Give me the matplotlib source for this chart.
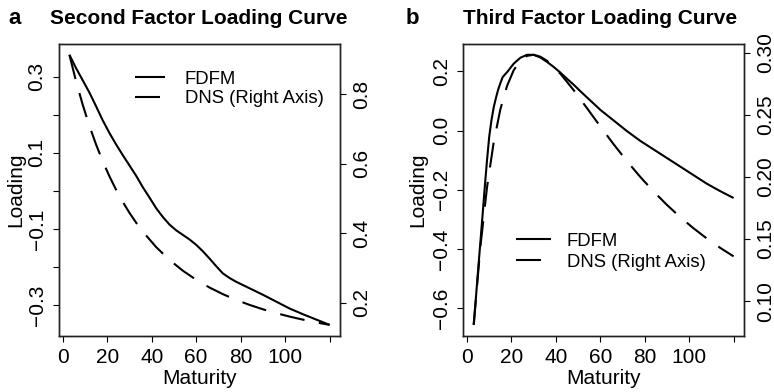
import matplotlib
matplotlib.use("Agg")
import matplotlib.pyplot as plt

plt.rcParams['font.family'] = ['Liberation Sans', 'DejaVu Sans']

# ---------------- data ----------------
maturity_a = [3, 6, 9, 12, 15, 18, 21, 24, 27, 30, 33, 36, 39, 42, 45, 48, 51, 54,
              57, 60, 63, 66, 69, 72, 75, 78, 84, 90, 96, 102, 108, 114, 120]
fdfm_second = [0.357, 0.322, 0.290, 0.258, 0.222, 0.185, 0.152, 0.122, 0.094, 0.067,
               0.040, 0.010, -0.017, -0.045, -0.068, -0.088, -0.103, -0.115, -0.127,
               -0.141, -0.158, -0.177, -0.197, -0.216, -0.228, -0.238, -0.255, -0.272,
               -0.290, -0.308, -0.323, -0.337, -0.351]

maturity_b = [3, 4, 5, 6, 7, 8, 9, 10, 11, 12, 13, 14, 15, 16, 17, 18, 21, 24, 27, 30,
              33, 36, 39, 42, 45, 48, 51, 54, 57, 60, 66, 72, 78, 84, 90, 96, 102, 108,
              114, 120]
fdfm_third = [-0.657, -0.565, -0.470, -0.378, -0.285, -0.190, -0.100, -0.020, 0.035,
              0.078, 0.110, 0.138, 0.160, 0.180, 0.189, 0.197, 0.226, 0.246, 0.256,
              0.256, 0.247, 0.232, 0.215, 0.196, 0.175, 0.155, 0.133, 0.112, 0.091,
              0.070, 0.034, -0.002, -0.035, -0.064, -0.093, -0.122, -0.151, -0.180,
              -0.205, -0.228]

maturity_dns = [3, 6, 9, 12, 15, 18, 21, 24, 27, 30, 33, 36, 42, 48, 54, 60, 66, 72,
                78, 84, 90, 96, 102, 108, 114, 120]
dns_second = [0.91396, 0.83763, 0.76984, 0.70946, 0.65559, 0.60742, 0.56428, 0.52554,
              0.49070, 0.45928, 0.43090, 0.40519, 0.36067, 0.32370, 0.29274, 0.26659,
              0.24432, 0.22522, 0.20870, 0.19431, 0.18169, 0.17055, 0.16066, 0.15183,
              0.14390, 0.13675]
dns_third = [0.08094, 0.14370, 0.19179, 0.22793, 0.25447, 0.27328, 0.28594, 0.29367,
             0.29755, 0.29838, 0.29687, 0.29354, 0.28319, 0.26994, 0.25543, 0.24070,
             0.22635, 0.21275, 0.20005, 0.18831, 0.17752, 0.16766, 0.15865, 0.15044,
             0.14293, 0.13608]

x_ticks = [0, 20, 40, 60, 80, 100, 120]
x_ticklabels = ['0', '20', '40', '60', '80', '100', '']

a_left_ticks = [-0.3, -0.2, -0.1, 0.0, 0.1, 0.2, 0.3]
a_left_labels = ['\u22120.3', '', '\u22120.1', '', '0.1', '', '0.3']
a_right_ticks = [0.2, 0.4, 0.6, 0.8]
a_right_labels = ['0.2', '0.4', '0.6', '0.8']

b_left_ticks = [-0.6, -0.4, -0.2, 0.0, 0.2]
b_left_labels = ['\u22120.6', '\u22120.4', '\u22120.2', '0.0', '0.2']
b_right_ticks = [0.10, 0.15, 0.20, 0.25, 0.30]
b_right_labels = ['0.10', '0.15', '0.20', '0.25', '0.30']

titles = ['Second Factor Loading Curve', 'Third Factor Loading Curve']
letters = ['a', 'b']
legend_labels = ['FDFM', 'DNS (Right Axis)']

# ---------------- layout ----------------
W, H = 774, 392
FS = 15
LFS = 13.3
fig = plt.figure(figsize=(W / 100, H / 100), dpi=100)


def rlim(vals):
    lo, hi = min(vals), max(vals)
    e = (hi - lo) * 0.04
    return lo - e, hi + e


def panel(left_px, right_px, mat, fd, dns, lt, ll, rt, rl, title, title_cx,
          letter, letter_cx, leg_x, leg_y, hlen, htp, lsp, ylab_x):
    top_px, bot_px = 44, 335.7
    ax = fig.add_axes([left_px / W, (H - bot_px) / H,
                       (right_px - left_px) / W, (bot_px - top_px) / H])
    ax2 = ax.twinx()
    l1, = ax.plot(mat, fd, color='black', lw=1.5, solid_capstyle='butt')
    l2, = ax2.plot(maturity_dns, dns, color='black', lw=1.5,
                   linestyle=(0, (12, 7)), dash_capstyle='butt')
    ax.set_xlim(*rlim(list(mat) + list(maturity_dns)))
    ax.set_ylim(*rlim(fd))
    ax2.set_ylim(*rlim(dns))

    ax.set_xticks(x_ticks)
    ax.set_xticklabels(x_ticklabels)
    ax.set_yticks(lt)
    ax.set_yticklabels(ll)
    ax2.set_yticks(rt)
    ax2.set_yticklabels(rl)

    for a in (ax, ax2):
        a.tick_params(direction='out', length=4.3, width=0.8, labelsize=FS,
                      pad=4.7, colors='black')
        for s in a.spines.values():
            s.set_linewidth(1.0)
            s.set_color('#222222')
    plt.setp(ax.get_yticklabels(), rotation=90, va='center')
    plt.setp(ax2.get_yticklabels(), rotation=90, va='center')

    ax.set_xlabel('Maturity', fontsize=FS)
    ax.xaxis.set_label_coords(0.5, (bot_px - 369) / (bot_px - top_px))
    ax.set_ylabel('Loading', fontsize=FS)
    ax.yaxis.set_label_coords((ylab_x - left_px) / (right_px - left_px), 0.5)

    fig.text(title_cx / W, 1 - 23.5 / H, title, ha='center', va='baseline',
             fontsize=FS, fontweight='bold')
    fig.text(letter_cx / W, 1 - 23.5 / H, letter, ha='center', va='baseline',
             fontsize=FS + 1, fontweight='bold')

    ax.legend([l1, l2], legend_labels, loc='center left',
              bbox_to_anchor=(leg_x / W, 1 - leg_y / H),
              bbox_transform=fig.transFigure, frameon=False, fontsize=LFS,
              borderpad=0, borderaxespad=0, handlelength=hlen,
              handletextpad=htp, labelspacing=lsp)


panel(59, 340, maturity_a, fdfm_second, dns_second, a_left_ticks, a_left_labels,
      a_right_ticks, a_right_labels, titles[0], 199, letters[0], 15,
      135, 89, 1.62, 1.08, 0.14, 25.4)
panel(463.3, 744, maturity_b, fdfm_third, dns_third, b_left_ticks, b_left_labels,
      b_right_ticks, b_right_labels, titles[1], 600.5, letters[1], 412,
      516, 251.7, 1.88, 0.86, 0.21, 427.5)

fig.savefig('out.png', dpi=100)
